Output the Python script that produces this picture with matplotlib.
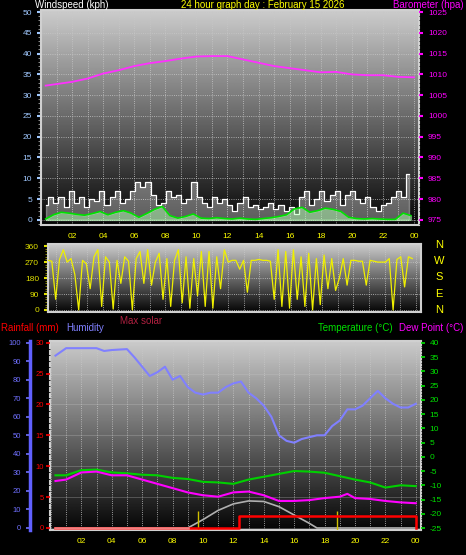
import numpy as np
import matplotlib
matplotlib.use('Agg')
from matplotlib import pyplot as plt
from matplotlib.ticker import MultipleLocator, FuncFormatter

plt.rcParams['font.family'] = ['Liberation Sans', 'DejaVu Sans']
plt.rcParams['axes.unicode_minus'] = False

# ---- data ----
baro_hours = [0.3, 2, 3, 4, 5, 6, 7, 8, 9, 10, 11, 12, 13, 14, 15, 16, 17, 18, 19, 20, 21, 22, 23, 24]
baro = [1007.3, 1008.2, 1009.0, 1010.2, 1011.0, 1012.0, 1012.7, 1013.2, 1013.8, 1014.3, 1014.4, 1014.4,
        1013.6, 1012.8, 1012.0, 1011.5, 1011.0, 1010.5, 1010.6, 1010.0, 1009.8, 1009.8, 1009.4, 1009.3]

wind_hours = [0.3 + i * 0.5 for i in range(48)]
wind_avg = [0.2, 1.2, 1.8, 1.6, 1.3, 1.1, 1.5, 2.0, 1.2, 1.8, 2.2, 1.6, 0.6, 1.5, 2.5, 3.2, 1.0, 0.4,
            0.8, 1.4, 0.4, 0.3, 0.5, 0.3, 0.2, 0.4, 0.2, 0.1, 0.3, 0.5, 0.8, 1.2, 2.6, 3.0, 1.8, 2.2,
            2.8, 2.5, 2.0, 0.6, 0.3, 0.2, 0.3, 0.2, 0.1, 0.1, 1.6, 1.0]
wind_gust = [3.5, 5.5, 4.0, 5.5, 3.0, 7.0, 4.0, 5.5, 3.0, 5.0, 4.5, 7.0, 3.5, 5.5, 7.0, 4.0, 5.0, 7.0,
             9.0, 8.0, 9.0, 6.0, 3.5, 4.0, 7.0, 5.5, 6.0, 4.0, 5.0, 9.0, 5.5, 4.0, 3.0, 5.5, 4.0, 5.0,
             3.5, 2.0, 4.0, 5.5, 3.0, 3.5, 2.5, 3.0, 4.0, 2.5, 3.5, 2.0, 3.0, 1.5, 5.5, 7.0, 3.5, 5.0,
             7.0, 4.5, 6.0, 7.0, 3.5, 6.0, 7.0, 5.0, 4.0, 5.5, 3.0, 2.0, 3.5, 4.0, 5.5, 7.0, 5.5, 11.0]
gust_hours = [0.3 + i * (23.7 / 72) for i in range(72)]

dir_hours = [0.5 + i * (23.5 / 96) for i in range(96)]
wind_dir = [280, 275, 60, 285, 340, 270, 290, 200, 0, 280, 260, 120, 300, 340, 20, 300, 270, 5, 280, 150,
            300, 275, 0, 290, 330, 150, 340, 140, 270, 320, 60, 290, 20, 280, 340, 40, 300, 10, 290, 80,
            330, 20, 330, 10, 300, 120, 340, 270, 280, 280, 230, 280, 100, 280, 280, 285, 280, 280, 275,
            60, 340, 20, 330, 10, 340, 60, 300, 20, 320, 0, 290, 30, 310, 120, 290, 110, 180, 290, 140,
            280, 280, 275, 275, 140, 280, 275, 270, 270, 270, 290, 0, 285, 300, 130, 300, 290]

hum_hours = [0.3, 1, 2, 3, 3.5, 4, 5, 5.5, 6, 6.5, 7, 7.5, 8, 8.5, 9, 9.5, 10, 10.5, 11, 11.5, 12, 12.5,
             13, 13.5, 14, 14.5, 15, 15.5, 16, 16.5, 17, 17.5, 18, 18.5, 19, 19.5, 20, 20.5, 21, 21.5,
             22, 22.5, 23, 23.5, 24]
humidity = [93, 97, 97, 97, 95.5, 96, 96.5, 92, 87, 82, 84, 87, 80, 82, 76, 73, 72, 73, 73, 76, 78, 79,
            73, 70, 66, 60, 50, 47, 46, 48, 49, 50, 50, 55, 58, 64, 64, 66, 70, 74, 70, 67, 65, 65, 67]

temp_hours = [0.3, 1, 2, 3, 4, 5, 6, 7, 8, 9, 10, 11, 12, 13, 14, 15, 16, 17, 18, 19, 20, 21, 22, 23, 24]
temperature = [-6.5, -6.5, -4.7, -4.5, -5.5, -5.8, -6.3, -6.5, -7.4, -7.8, -8.8, -9.0, -9.5, -8.0, -7.0,
               -6.0, -5.0, -5.2, -5.6, -6.8, -8.0, -9.0, -10.8, -10.0, -10.3]
dew_hours = [0.3, 1, 2, 3, 4, 5, 6, 7, 8, 9, 10, 11, 12, 13, 14, 15, 16, 17, 18, 19, 19.5, 20, 21, 22, 23, 24]
dewpoint = [-8.5, -8.0, -5.5, -5.2, -6.5, -6.5, -8.0, -9.5, -11.0, -12.5, -13.5, -14.0, -12.5, -12.2,
            -13.5, -15.5, -15.5, -15.2, -14.5, -14.0, -13.0, -14.5, -14.8, -15.5, -16.0, -16.3]

rain_hours = [0.3, 12.4, 12.4, 24.0, 24.0]
rain = [0, 0, 1.95, 1.95, 0]

solar_hours = [0.3, 9, 10, 11, 12, 13, 14, 15, 16, 17, 17.5, 24]
solar = [0, 0, 4.5, 9.5, 13, 14.6, 14.3, 11.5, 7, 2.5, 0, 0]
sun_marks = [9.7, 18.8]

BG = 'black'
GRID = '#c8c8c8'

fig = plt.figure(figsize=(4.66, 5.55), dpi=100)
fig.set_facecolor(BG)
grad = np.linspace(0.80, 0.02, 256).reshape(-1, 1)


def style(ax, xlim, ylim, ymaj, ymin):
    ax.set_xlim(*xlim)
    ax.set_ylim(*ylim)
    ax.imshow(grad, cmap='gray', vmin=0, vmax=1, aspect='auto', extent=[0, 1, 0, 1],
              transform=ax.transAxes, zorder=0)
    ax.xaxis.set_major_locator(MultipleLocator(1))
    ax.yaxis.set_major_locator(MultipleLocator(ymaj))
    ax.yaxis.set_minor_locator(MultipleLocator(ymin))
    ax.grid(True, color=GRID, ls=':', lw=0.6, zorder=1)
    for s in ax.spines.values():
        s.set_color('#d0d0d0')
        s.set_linewidth(1.5)
    ax.tick_params(axis='x', colors='yellow', labelsize=6, length=0, pad=6)
    ax.xaxis.set_major_formatter(FuncFormatter(lambda v, p: '%02d' % (int(v) % 24) if int(v) % 2 == 0 and v > 0.5 else ''))
    ax.set_facecolor('black')


# ---- panel 1: wind & barometer ----
ax1 = fig.add_axes([0.088, 0.595, 0.811, 0.387])
style(ax1, (0, 24.32), (-1.2, 50.5), 5, 1)
ax1.tick_params(axis='y', colors='#a0c8ff', labelsize=6, length=3, width=1.5, direction='out')
ax1.tick_params(axis='y', which='minor', colors='#a0a0a0', length=2)
ax1.fill_between(gust_hours, 0, wind_gust, step='mid', color='white', alpha=0.35, zorder=2)
ax1.step(gust_hours, wind_gust, where='mid', color='white', lw=0.8, zorder=3)
ax1.fill_between(wind_hours, 0, wind_avg, color='#b0ffb0', alpha=0.5, zorder=3)
ax1.plot(wind_hours, wind_avg, color='#00e000', lw=1.2, zorder=4)
ax1b = ax1.twinx()
ax1b.set_ylim(973.8, 1025.5)
ax1b.yaxis.set_major_locator(MultipleLocator(5))
ax1b.yaxis.set_minor_locator(MultipleLocator(1))
ax1b.tick_params(axis='y', colors='#ff00ff', labelsize=6, length=3, width=1.5)
ax1b.tick_params(axis='y', which='minor', length=2)
ax1b.plot(baro_hours, baro, color='#ff30ff', lw=1.3)
for s in ax1b.spines.values():
    s.set_visible(False)

fig.text(0.075, 1.0, 'Windspeed (kph)', color='white', fontsize=7, va='top')
fig.text(0.563, 1.0, '24 hour graph day : February 15 2026', color='yellow', fontsize=7, va='top', ha='center')
fig.text(0.995, 1.0, 'Barometer (hpa)', color='#ff00ff', fontsize=7, va='top', ha='right')

# ---- panel 2: wind direction ----
ax2 = fig.add_axes([0.103, 0.438, 0.800, 0.122])
style(ax2, (0.5, 24.3), (-11, 371), 90, 15)
ax2.set_xticklabels([])
ax2.tick_params(axis='y', colors='#e0e000', labelsize=6, length=3, width=1.5)
ax2.tick_params(axis='y', which='minor', colors='#a0a000', length=2)
ax2.plot(dir_hours, wind_dir, color='#f0f000', lw=0.9, zorder=3)
for lab, yy in zip(['N', 'W', 'S', 'E', 'N'], [245, 261, 277, 294, 310]):
    fig.text(0.942, 1 - yy / 555, lab, color='yellow', fontsize=8, ha='center', va='center')

fig.text(0.258, 1 - 321 / 555, 'Max solar', color='#b02040', fontsize=7, va='center')
fig.text(0.002, 1 - 328 / 555, 'Rainfall (mm)', color='red', fontsize=7, va='center')
fig.text(0.143, 1 - 328 / 555, 'Humidity', color='#8080ff', fontsize=7, va='center')
fig.text(0.842, 1 - 328 / 555, 'Temperature (°C)', color='#00e000', fontsize=7, va='center', ha='right')
fig.text(0.995, 1 - 328 / 555, 'Dew Point (°C)', color='#ff00ff', fontsize=7, va='center', ha='right')

# ---- panel 3: humidity, rain, temperature ----
ax3 = fig.add_axes([0.107, 0.045, 0.796, 0.341])
style(ax3, (-0.07, 24.33), (-1.1, 101), 10, 2)
ax3.grid(False, axis='y')
ax3.yaxis.set_major_locator(MultipleLocator(100 / 6))
ax3.grid(True, axis='y', color=GRID, ls='-', lw=0.4, alpha=0.5)
ax3.set_yticklabels([])
ax3.tick_params(axis='y', length=0)
# humidity axis
axh = ax3.twinx()
axh.set_ylim(-1.1, 101)
axh.yaxis.set_ticks_position('left')
axh.spines['left'].set_position(('axes', -0.054))
axh.spines['left'].set_color('#6060ff')
axh.spines['left'].set_linewidth(2.5)
for k in ['right', 'top', 'bottom']:
    axh.spines[k].set_visible(False)
axh.yaxis.set_major_locator(MultipleLocator(10))
axh.yaxis.set_minor_locator(MultipleLocator(2))
axh.tick_params(axis='y', colors='#7070ff', labelsize=5.5, length=3, width=1.2)
axh.tick_params(axis='y', which='minor', length=2)
axh.plot(hum_hours, humidity, color='#8080ff', lw=1.5, zorder=3)
axh.plot(solar_hours, solar, color='#b0b0b0', lw=1.2, zorder=3)
axh.vlines(sun_marks, -1, 9, color='#d0c000', lw=1.0, zorder=3)
# rain axis
axr = ax3.twinx()
axr.set_ylim(-1.1 * 0.3, 30.3)
axr.yaxis.set_ticks_position('left')
for s in axr.spines.values():
    s.set_visible(False)
axr.yaxis.set_major_locator(MultipleLocator(5))
axr.yaxis.set_minor_locator(MultipleLocator(1))
axr.tick_params(axis='y', colors='red', labelsize=5.5, length=3, width=1.2, pad=1)
axr.tick_params(axis='y', which='minor', length=2)
axr.plot(rain_hours, rain, color='red', lw=1.8, zorder=4)
axr.plot([0.3, 9], [0, 0], color='#f08080', lw=1.8, zorder=5)
# temperature axis
axt = ax3.twinx()
axt.set_ylim(-25.7, 40.7)
for s in axt.spines.values():
    s.set_visible(False)
axt.yaxis.set_major_locator(MultipleLocator(5))
axt.yaxis.set_minor_locator(MultipleLocator(1))
axt.tick_params(axis='y', colors='#00e000', labelsize=6, length=3, width=1.2)
axt.tick_params(axis='y', which='minor', length=2)
axt.plot(temp_hours, temperature, color='#00d000', lw=1.5, zorder=3)
axt.plot(dew_hours, dewpoint, color='#ff00ff', lw=1.5, zorder=3)

fig.savefig('out.png', facecolor=BG)
